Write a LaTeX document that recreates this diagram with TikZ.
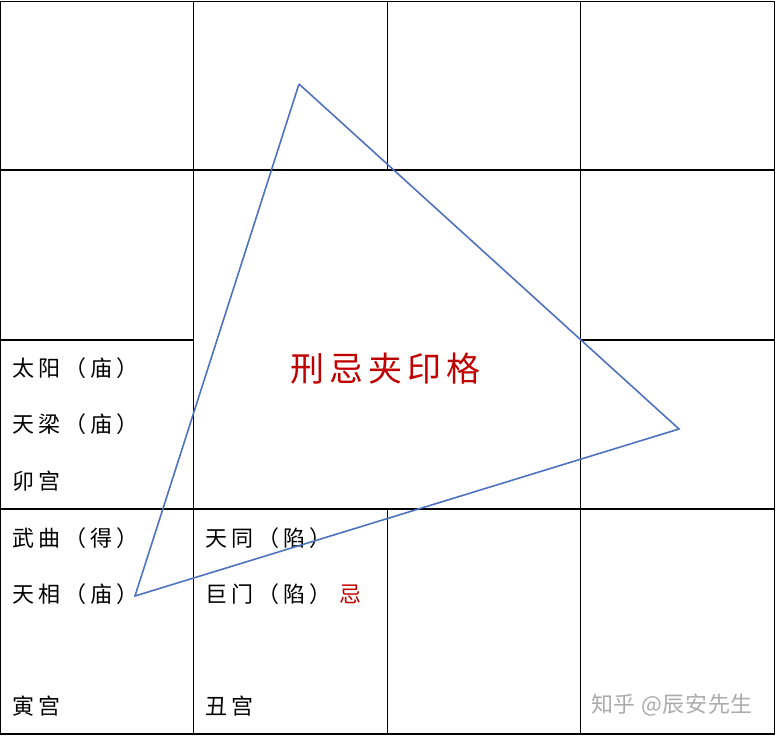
\documentclass[tikz,border=0pt]{standalone}
\usepackage{fontspec}
\newfontfamily\cjk{Noto Sans CJK SC}
\usepackage{xcolor}
\usetikzlibrary{positioning}
\definecolor{jired}{RGB}{192,0,0}
\definecolor{triblue}{RGB}{79,114,190}
\begin{document}
\begin{tikzpicture}[x=1pt, y=-1pt,
    grid/.style={line width=1.2pt, black},
    star/.style={anchor=west, inner sep=0pt, font=\cjk\fontsize{22}{22}\selectfont\addfontfeature{LetterSpace=18}},
    title/.style={inner sep=0pt, text=jired, font=\cjk\fontsize{34}{34}\selectfont\addfontfeature{LetterSpace=15}},
    edge/.style={line width=1.6pt, triblue}]
    \useasboundingbox (0,0) rectangle (776,736);
    % Grid
    \draw[grid] (0.5,1.5) rectangle (774.5,734);
    \draw[grid] (0.5,170) -- (774.5,170);
    \draw[grid] (0.5,509) -- (774.5,509);
    \draw[grid] (0.5,340) -- (193.5,340);
    \draw[grid] (580.5,340) -- (774.5,340);
    \draw[grid] (193.5,1.5) -- (193.5,734);
    \draw[grid] (580.5,1.5) -- (580.5,734);
    \draw[grid] (387.5,1.5) -- (387.5,170);
    \draw[grid] (387.5,509) -- (387.5,734);

    % Palaces
    \node[star] (taiyang) at (12,368) {太阳（庙）};
    \node[star] (tianliang) at (12,424) {天梁（庙）};
    \node[star] (mao) at (12,481) {卯宫};
    \node[star] (wuqu) at (12,538) {武曲（得）};
    \node[star] (tianxiang) at (12,594) {天相（庙）};
    \node[star] (yin) at (12,706) {寅宫};
    \node[star] (tiantong) at (205,538) {天同（陷）};
    \node[star] (jumen) at (205,594) {巨门（陷）};
    \node[star, text=jired] (ji) at (339,594) {忌};
    \node[star] (chou) at (205,706) {丑宫};

    % Title
    \node[title, anchor=west] (ge) at (290,369) {刑忌夹印格};

    % Triangle
    \coordinate (top) at (299,84);
    \coordinate (east) at (679,429);
    \coordinate (west) at (135,596);
    \draw[edge] (top) -- (east) -- (west) -- (top);

    % Watermark
    \node[inner sep=0pt, anchor=west, text=black!33, font=\cjk\fontsize{22}{22}\selectfont\addfontfeature{LetterSpace=3}] (mark) at (591,705) {知乎 @辰安先生};
\end{tikzpicture}
\end{document}
